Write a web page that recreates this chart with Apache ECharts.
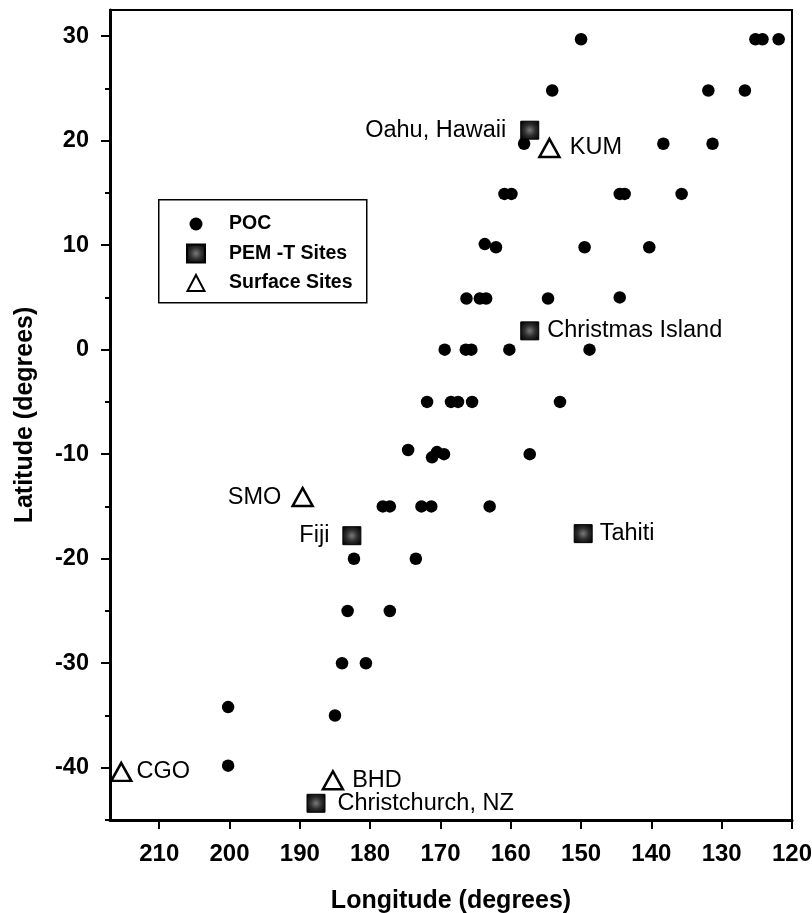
<!DOCTYPE html>
<html>
<head>
<meta charset="utf-8">
<script src="https://cdn.jsdelivr.net/npm/echarts@6/dist/echarts.min.js"></script>
<style>html,body{margin:0;padding:0;background:#fff}#c{width:812px;height:913px}</style>
</head>
<body>
<div id="c"></div>
<script>
// POC points
var pocLon = [150.0, 125.2, 124.2, 121.9,
  154.1, 131.9, 126.7,
  158.1, 138.3, 131.3,
  160.9, 159.9, 144.5, 143.8, 135.7,
  163.7, 162.1, 149.5, 140.3,
  166.3, 164.4, 163.5, 154.7, 144.5,
  169.4, 166.4, 165.6, 160.2, 148.8,
  171.9, 168.5, 167.5, 165.5, 153.0,
  174.6, 171.2, 170.5, 169.5, 157.3,
  178.2, 177.2, 172.7, 171.3, 163.0,
  182.3, 173.5,
  183.2, 177.2,
  184.0, 180.6,
  200.2, 185.0,
  200.2];
var pocLat = [29.7, 29.7, 29.7, 29.7,
  24.8, 24.8, 24.8,
  19.7, 19.7, 19.7,
  14.9, 14.9, 14.9, 14.9, 14.9,
  10.1, 9.8, 9.8, 9.8,
  4.9, 4.9, 4.9, 4.9, 5.0,
  0, 0, 0, 0, 0,
  -5.0, -5.0, -5.0, -5.0, -5.0,
  -9.6, -10.3, -9.8, -10.0, -10.0,
  -15.0, -15.0, -15.0, -15.0, -15.0,
  -20.0, -20.0,
  -25.0, -25.0,
  -30.0, -30.0,
  -34.2, -35.0,
  -39.8];

// PEM-T sites
var pemNames = ['Oahu, Hawaii', 'Christmas Island', 'Fiji', 'Tahiti', 'Christchurch, NZ'];
var pemLon = [157.3, 157.3, 182.6, 149.7, 187.7];
var pemLat = [21.0, 1.8, -17.8, -17.6, -43.4];
var pemLabelPos = ['left', 'right', 'left', 'right', 'right'];

// Surface sites
var surfNames = ['KUM', 'SMO', 'CGO', 'BHD'];
var surfLon = [154.5, 189.6, 215.4, 185.3];
var surfLat = [19.3, -14.1, -40.4, -41.2];
var surfLabelPos = ['right', 'left', 'right', 'right'];

// Axis ticks
var xTicks = [120, 130, 140, 150, 160, 170, 180, 190, 200, 210];
var yLabelTicks = [-40, -30, -20, -10, 0, 10, 20, 30];
var yMinorTicks = [-45, -40, -35, -30, -25, -20, -15, -10, -5, 0, 5, 10, 15, 20, 25, 30];

var legendNames = ['POC', 'PEM -T Sites', 'Surface Sites'];

var FONT = '"Liberation Sans", Arial, sans-serif';
var pemDist = [14, 8, 13, 7, 12];
var surfDist = [9, 10, 4, 8];

var pocData = pocLon.map(function (v, i) { return [v, pocLat[i]]; });
var pemData = pemNames.map(function (n, i) {
  return { name: n, value: [pemLon[i], pemLat[i]],
    label: { position: pemLabelPos[i], distance: pemDist[i] } };
});
var surfData = surfNames.map(function (n, i) {
  return { name: n, value: [surfLon[i], surfLat[i]],
    label: { position: surfLabelPos[i], distance: surfDist[i] } };
});

var squareFill = new echarts.graphic.RadialGradient(0.5, 0.5, 0.6, [
  { offset: 0, color: '#7a7a7a' },
  { offset: 0.5, color: '#2e2e2e' },
  { offset: 1, color: '#050505' }
]);

var chart = echarts.init(document.getElementById('c'), null, { renderer: 'canvas' });
chart.setOption({
  animation: false,
  backgroundColor: '#fff',
  grid: { left: 110, right: 20, top: 10, bottom: 93, show: true, borderColor: '#000', borderWidth: 2,
    containLabel: false, outerBoundsMode: 'none' },
  xAxis: {
    type: 'value', min: 120, max: 217, inverse: true,
    name: 'Longitude (degrees)', nameLocation: 'middle', nameGap: 69,
    nameTextStyle: { fontFamily: FONT, fontSize: 25, fontWeight: 'bold', color: '#000' },
    axisLine: { show: true, onZero: false, lineStyle: { color: '#000', width: 3 } },
    axisTick: { show: true, inside: false, length: 9, customValues: xTicks, lineStyle: { color: '#000', width: 2 } },
    axisLabel: { customValues: xTicks, margin: 22, fontFamily: FONT, fontSize: 24, fontWeight: 'bold', color: '#000' },
    splitLine: { show: false }
  },
  yAxis: [{
    type: 'value', min: -45, max: 32.5,
    name: 'Latitude (degrees)', nameLocation: 'middle', nameGap: 72, nameRotate: 90,
    nameTextStyle: { fontFamily: FONT, fontSize: 25, fontWeight: 'bold', color: '#000' },
    axisLine: { show: true, onZero: false, lineStyle: { color: '#000', width: 3 } },
    axisTick: { show: true, inside: false, length: 5, customValues: yMinorTicks, lineStyle: { color: '#000', width: 2 } },
    axisLabel: { customValues: yLabelTicks, margin: 21, fontFamily: FONT, fontSize: 23.5, fontWeight: 'bold', color: '#000' },
    splitLine: { show: false }
  }, {
    type: 'value', min: -45, max: 32.5, position: 'left',
    axisLine: { show: false, onZero: false },
    axisTick: { show: true, inside: false, length: 9, customValues: yLabelTicks, lineStyle: { color: '#000', width: 2 } },
    axisLabel: { show: false },
    splitLine: { show: false }
  }],
  legend: {
    show: true, orient: 'vertical', left: 186, top: 214, padding: 0,
    itemWidth: 18, itemHeight: 18, itemGap: 9.5,
    textStyle: { fontFamily: FONT, fontSize: 19.5, fontWeight: 'bold', color: '#000', padding: [0, 0, 0, 19] },
    data: [
      { name: legendNames[0], icon: 'path://M0,0M18,18M2.5,9a6.5,6.5 0 1,0 13,0a6.5,6.5 0 1,0 -13,0z' },
      { name: legendNames[1], icon: 'rect' },
      { name: legendNames[2], icon: 'path://M0,0M18,18M9,1L17.5,17L0.5,17Z' }
    ]
  },
  graphic: [{
    type: 'rect', left: 158, top: 199, z: 0,
    shape: { width: 208, height: 103 },
    style: { fill: 'rgba(0,0,0,0)', stroke: '#000', lineWidth: 1.5 }
  }],
  series: [{
    name: legendNames[0], type: 'scatter', symbol: 'circle', symbolSize: 12.5,
    itemStyle: { color: '#000', opacity: 1 },
    data: pocData, z: 3
  }, {
    name: legendNames[1], type: 'scatter', symbol: 'rect', symbolSize: 18,
    itemStyle: { color: squareFill, borderColor: '#000', borderWidth: 1, opacity: 1 },
    label: { show: true, formatter: '{b}', fontFamily: FONT, fontSize: 23.5, color: '#000' },
    data: pemData, z: 4
  }, {
    name: legendNames[2], type: 'scatter', symbol: 'triangle', symbolSize: [20, 18],
    itemStyle: { color: '#fff', borderColor: '#000', borderWidth: 2.5, opacity: 1 },
    label: { show: true, formatter: '{b}', fontFamily: FONT, fontSize: 23.5, color: '#000' },
    data: surfData, z: 4
  }]
});
</script>
</body>
</html>
